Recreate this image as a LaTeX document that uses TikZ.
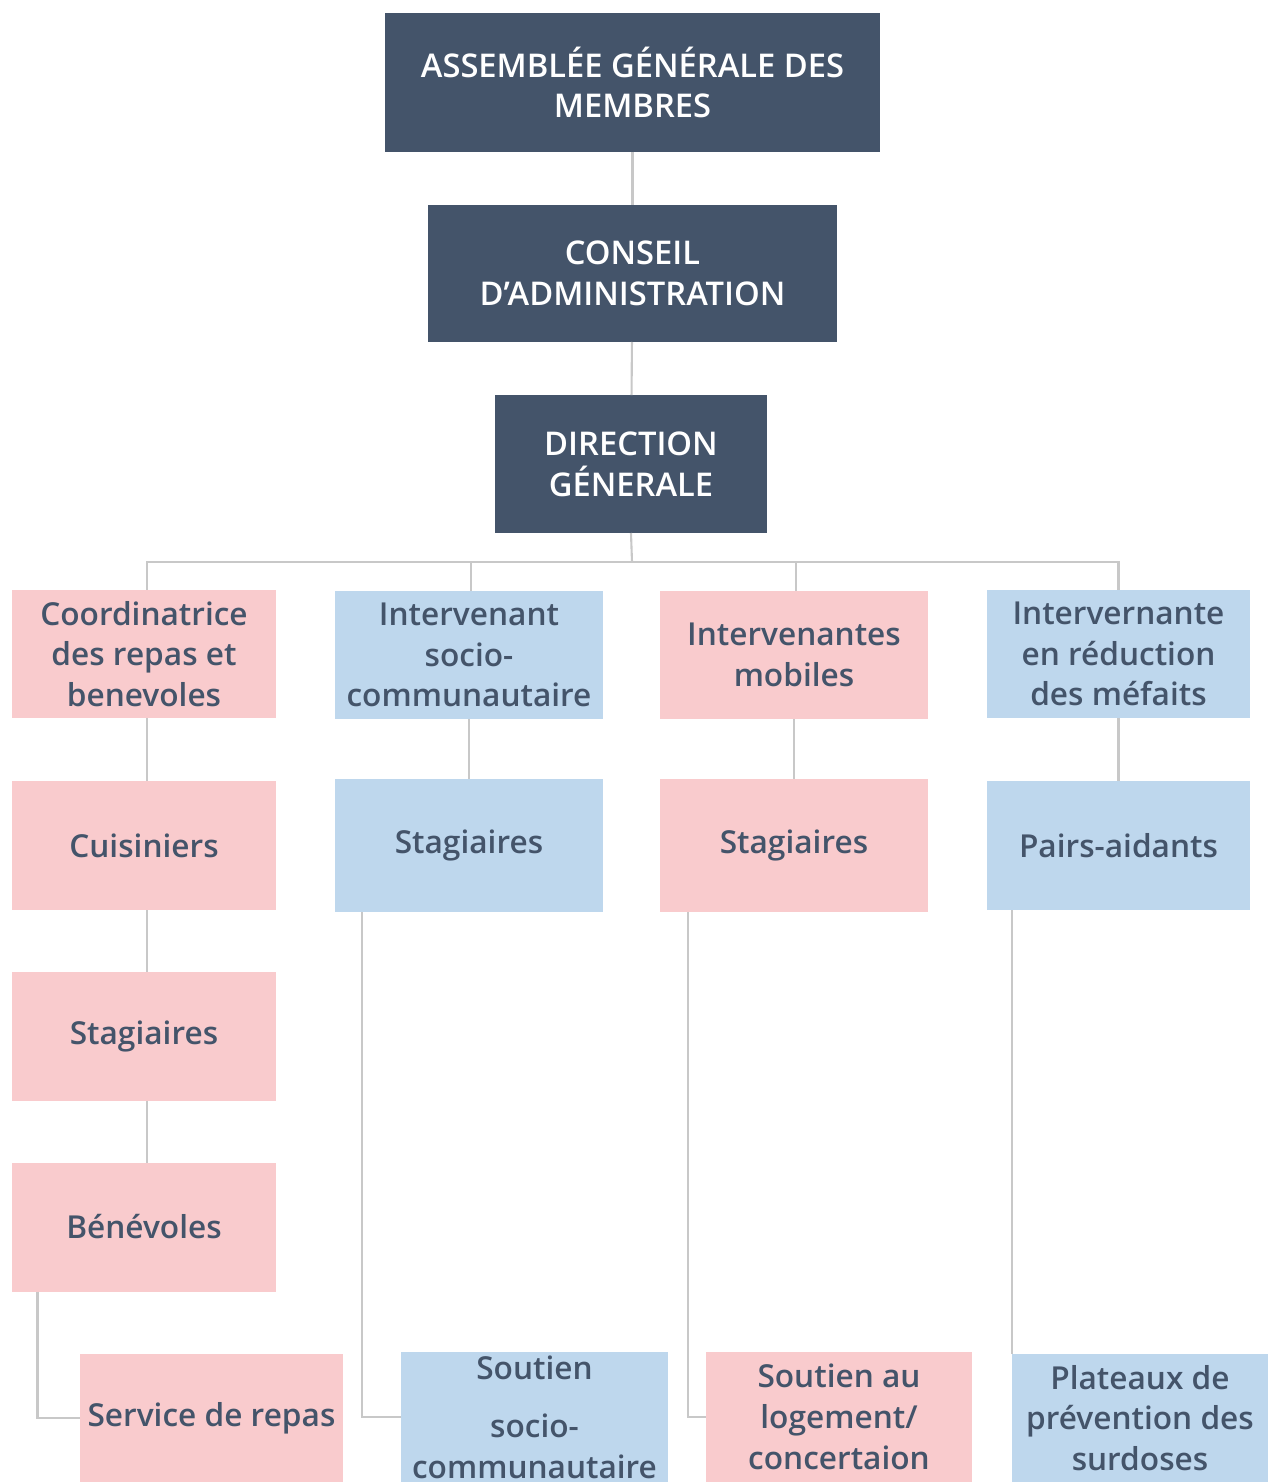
\documentclass[tikz,border=0pt]{standalone}
\usepackage{fontspec}
\setmainfont{Open Sans}
\newfontfamily\semi{Open Sans Semibold}
\usepackage{tikz}
\definecolor{ardoise}{RGB}{68,84,106}
\definecolor{rose}{RGB}{249,203,205}
\definecolor{ciel}{RGB}{190,215,237}
\definecolor{trait}{RGB}{200,200,200}

\begin{document}
\begin{tikzpicture}[x=0.02cm, y=-0.02cm,
  every node/.style={align=center, inner sep=0pt, outer sep=0pt, font=\fontsize{18}{23.2}\selectfont\semi},
  chef/.style={fill=ardoise, text=white, font=\fontsize{18.6}{23.2}\selectfont\semi},
  boxrose/.style={fill=rose, text=ardoise, minimum width=5.3cm, minimum height=2.58cm},
  boxciel/.style={fill=ciel, text=ardoise, minimum width=5.3cm, minimum height=2.58cm},
  link/.style={draw=trait, line width=1.2pt}]
\useasboundingbox (0,0) rectangle (1268,1482);

\node[chef, minimum width=9.9cm, minimum height=2.78cm] (ag) at (632.5,82.5) {ASSEMBLÉE GÉNÉRALE DES\\MEMBRES};
\node[chef, minimum width=8.18cm, minimum height=2.74cm] (ca) at (632.5,273.5) {CONSEIL\\D’ADMINISTRATION};
\node[chef, minimum width=5.44cm, minimum height=2.76cm] (dg) at (631,464) {DIRECTION\\GÉNERALE};

\node[boxrose] (coord) at (144,654) {Coordinatrice\\des repas et\\benevoles};
\node[boxciel, minimum width=5.36cm] (isc) at (469,655) {Intervenant\\socio-\\communautaire};
\node[boxrose, minimum width=5.36cm] (mob) at (794,655) {Intervenantes\\mobiles};
\node[boxciel, minimum width=5.26cm] (red) at (1118.5,654) {Intervernante\\en réduction\\des méfaits};

\node[boxrose] (cuis) at (144,845.5) {Cuisiniers};
\node[boxciel, minimum width=5.36cm, minimum height=2.66cm] (stb) at (469,845.5) {\strut Stagiaires};
\node[boxrose, minimum width=5.36cm, minimum height=2.66cm] (stp) at (794,845.5) {\strut Stagiaires};
\node[boxciel, minimum width=5.26cm] (pa) at (1118.5,845.5) {Pairs-aidants};

\node[boxrose] (stc) at (144,1036) {\strut Stagiaires};
\node[boxrose] (ben) at (144,1227) {Bénévoles};

\node[boxrose, minimum width=5.26cm, minimum height=2.56cm] (serv) at (211.5,1418) {Service de repas};
\node[boxciel, minimum width=5.34cm, minimum height=2.6cm] (ssc) at (534.5,1417) {Soutien\\[0.35cm]socio-\\communautaire};
\node[boxrose, minimum width=5.32cm, minimum height=2.6cm] (slog) at (839,1417) {Soutien au\\logement/\\concertaion};
\node[boxciel, minimum width=5.12cm, minimum height=2.56cm] (plat) at (1140,1418) {Plateaux de\\prévention des\\surdoses};

\draw[link] (ag) -- (ca);
\draw[link] (ca) -- (dg);
\draw[link] (dg.south) -- (632,562);
\draw[link] (coord.north -| 147,0) |- (red.north |- 0,562) -- (red.north);
\draw[link] (isc.north -| 471,0) -- (471,562);
\draw[link] (mob.north -| 796,0) -- (796,562);

\draw[link] (coord.south -| 147,0) -- (cuis.north -| 147,0);
\draw[link] (cuis.south -| 147,0) -- (stc.north -| 147,0);
\draw[link] (stc.south -| 147,0) -- (ben.north -| 147,0);
\draw[link] (isc) -- (stb);
\draw[link] (mob) -- (stp);
\draw[link] (red) -- (pa);

\draw[link] ([xshift=0.52cm]ben.south west) |- (serv.west);
\draw[link] ([xshift=0.54cm]stb.south west) |- (ssc.west);
\draw[link] ([xshift=0.56cm]stp.south west) |- (slog.west);
\draw[link] ([xshift=0.5cm]pa.south west) -- ([xshift=0.5cm]pa.south west |- plat.north);
\end{tikzpicture}
\end{document}
